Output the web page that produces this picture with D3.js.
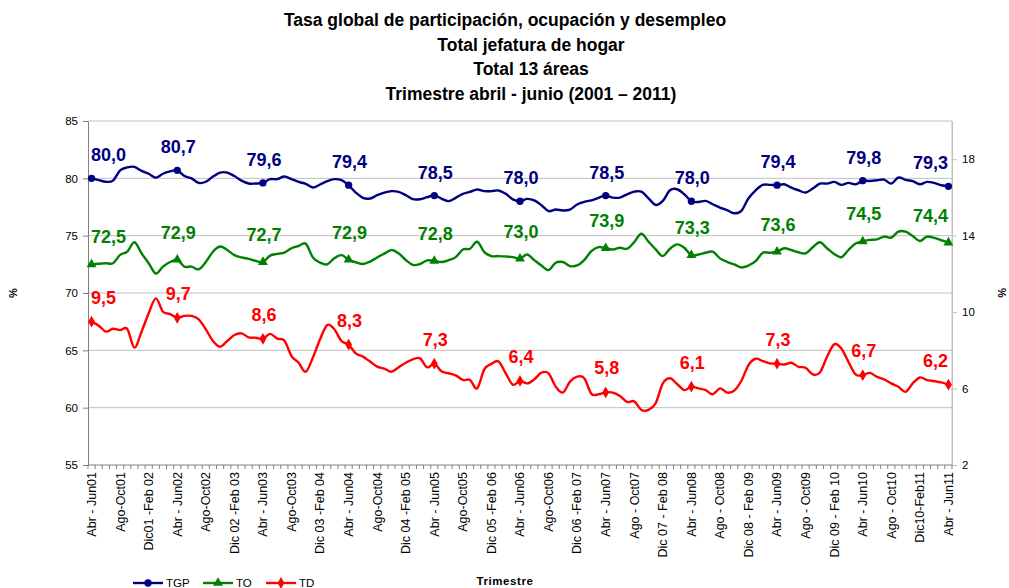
<!DOCTYPE html>
<html><head><meta charset="utf-8">
<script src="https://cdn.jsdelivr.net/npm/d3@7"></script>
<style>
html,body{margin:0;padding:0;background:#fff;}
svg text{font-family:"Liberation Sans",Arial,sans-serif;}
</style></head>
<body>
<svg id="chart" width="1009" height="588"></svg>
<script>
// ---- data ----
const titleLines = ["Tasa global de participación, ocupación y desempleo","Total jefatura de hogar","Total 13 áreas","Trimestre abril - junio (2001 – 2011)"];
const tickLabels = ["Abr - Jun01","Ago-Oct01","Dic01 -Feb 02","Abr - Jun02","Ago-Oct02","Dic 02 -Feb 03","Abr - Jun03","Ago-Oct03","Dic 03 -Feb 04","Abr - Jun04","Ago-Oct04","Dic 04 -Feb 05","Abr - Jun05","Ago-Oct05","Dic 05 -Feb 06","Abr - Jun06","Ago-Oct06","Dic  06 -Feb 07","Abr - Jun07","Ago - Oct07","Dic 07 - Feb 08","Abr - Jun08","Ago - Oct08","Dic 08 - Feb 09","Abr - Jun09","Ago - Oct09","Dic 09 - Feb 10","Abr - Jun10","Ago - Oct10","Dic10-Feb11","Abr - Jun11"];
const TGP = [80.0,79.85,79.7,79.8,80.7,80.95,81.0,80.65,80.4,80.05,80.4,80.6,
80.7,80.2,80.0,79.6,79.7,80.15,80.5,80.5,80.2,79.8,79.55,79.55,
79.6,79.93,79.93,80.16,79.93,79.69,79.52,79.2,79.46,79.75,79.93,79.84,
79.4,78.76,78.3,78.24,78.53,78.76,78.88,78.82,78.53,78.18,78.18,78.36,
78.5,78.24,78.01,78.3,78.65,78.82,79.03,78.88,78.88,78.94,78.65,78.16,
78.0,78.21,78.07,77.66,77.14,77.28,77.2,77.28,77.72,77.95,78.07,78.3,
78.5,78.32,78.32,78.61,78.84,78.84,78.26,77.68,78.03,78.96,79.05,78.61,
78.0,77.94,78.03,77.74,77.45,77.22,76.95,77.16,78.26,78.96,79.43,79.43,
79.4,79.48,79.19,78.96,78.76,79.11,79.54,79.54,79.69,79.43,79.6,79.48,
79.8,79.77,79.83,79.89,79.54,80.07,79.86,79.75,79.48,79.69,79.6,79.4,
79.3];
const TO = [72.5,72.55,72.6,72.6,73.32,73.6,74.42,73.46,72.6,71.7,72.3,72.7,
72.9,72.3,72.3,72.07,72.7,73.6,74.05,73.75,73.3,73.1,72.97,72.8,
72.7,73.26,73.41,73.52,73.9,74.1,74.3,73.1,72.65,72.5,73.03,73.3,
72.9,72.68,72.53,72.74,73.1,73.43,73.75,73.46,72.88,72.45,72.53,72.85,
72.8,72.7,72.87,73.13,73.8,73.86,74.47,73.57,73.22,73.22,73.19,73.13,
73.0,73.36,72.87,72.4,72.0,72.64,72.7,72.35,72.4,72.87,73.65,74.0,
73.9,73.8,73.95,73.86,74.44,75.17,74.47,73.8,73.22,73.86,74.24,73.95,
73.3,73.36,73.51,73.6,73.02,72.72,72.49,72.23,72.4,72.78,73.51,73.51,
73.6,73.9,73.75,73.55,73.46,73.99,74.42,73.9,73.41,73.12,73.75,74.31,
74.5,74.63,74.68,74.92,74.83,75.35,75.35,74.97,74.54,74.92,74.8,74.6,
74.4];
const TD = [9.5,9.29,8.98,9.13,9.06,9.12,8.14,8.98,9.94,10.72,10.02,9.9,
9.7,9.8,9.8,9.62,9.1,8.49,8.19,8.49,8.8,8.89,8.68,8.66,
8.6,8.86,8.61,8.51,7.7,7.35,6.88,7.63,8.58,9.33,9.1,8.49,
8.3,7.84,7.67,7.41,7.15,7.04,6.88,7.11,7.35,7.53,7.58,7.11,
7.3,6.9,6.8,6.69,6.45,6.45,6.01,7.0,7.29,7.42,6.8,6.2,
6.4,6.27,6.48,6.83,6.8,6.1,5.79,6.36,6.62,6.54,5.72,5.7,
5.8,5.79,5.61,5.3,5.33,4.88,4.88,5.23,6.27,6.54,6.24,5.92,
6.1,6.01,5.92,5.7,6.01,5.79,5.89,6.41,7.23,7.56,7.44,7.32,
7.3,7.26,7.35,7.14,7.09,6.74,6.84,7.66,8.31,8.1,7.4,6.74,
6.7,6.82,6.61,6.48,6.27,6.09,5.83,6.27,6.58,6.44,6.39,6.32,
6.2];
const leftTicks = [55,60,65,70,75,80,85];
const rightTicks = [2,6,10,14,18];
const labelEvery = 4;   // tick labels every 4 trimesters
const markEvery = 12;   // markers / data labels at each Abr-Jun

// ---- layout ----
const svg = d3.select("#chart");
const L = 88, R = 952, T = 121, B = 465;
const idx = d3.range(TGP.length);
const x = d3.scalePoint().domain(idx).range([L, R]).padding(0.5);
const step = x.step();
const yL = d3.scaleLinear().domain([55, 85]).range([B, T]);
const yR = d3.scaleLinear().domain([2, 20]).range([B, T]);

// title
svg.append("g").selectAll("text").data(titleLines).join("text")
  .attr("x", (d,i) => i === 0 ? 505 : 531)
  .attr("y", (d,i) => 26 + i * 24.5)
  .attr("text-anchor", "middle").attr("font-size", 17.5).attr("font-weight", "bold")
  .text(d => d);

// gridlines
svg.append("g").selectAll("line").data(leftTicks.filter(t => t > 55 && t < 85)).join("line")
  .attr("x1", L).attr("x2", R).attr("y1", d => yL(d)).attr("y2", d => yL(d))
  .attr("stroke", "#c0c0c0").attr("stroke-width", 1);
// plot border top/right
svg.append("path").attr("d", `M${L},${T}H${R}V${B}`).attr("fill", "none").attr("stroke", "#c0c0c0");

// left axis
const gL = svg.append("g").attr("transform", `translate(${L},0)`)
  .call(d3.axisLeft(yL).tickValues(leftTicks).tickSize(5).tickSizeOuter(0).tickFormat(d3.format("d")));
gL.select(".domain").attr("stroke", "#808080");
gL.selectAll(".tick line").attr("stroke", "#808080");
gL.selectAll(".tick text").attr("font-size", 11.5).attr("fill", "#000").attr("x", -10)
  .attr("font-family", "'Liberation Sans',Arial,sans-serif");

// right axis
const gR = svg.append("g").attr("transform", `translate(${R},0)`)
  .call(d3.axisRight(yR).tickValues(rightTicks).tickSize(5).tickSizeOuter(0).tickFormat(d3.format("d")));
gR.select(".domain").attr("stroke", "#c0c0c0");
gR.selectAll(".tick line").attr("stroke", "#c0c0c0");
gR.selectAll(".tick text").attr("font-size", 11.5).attr("fill", "#000").attr("x", 10)
  .attr("font-family", "'Liberation Sans',Arial,sans-serif");

// bottom axis: ticks at category boundaries
const gB = svg.append("g");
gB.append("line").attr("x1", L).attr("x2", R).attr("y1", B).attr("y2", B).attr("stroke", "#808080");
gB.selectAll("line.tk").data(d3.range(TGP.length + 1)).join("line").attr("class", "tk")
  .attr("x1", d => L + d * step).attr("x2", d => L + d * step)
  .attr("y1", B).attr("y2", B + 4).attr("stroke", "#808080");
gB.selectAll("text").data(tickLabels).join("text")
  .attr("transform", (d,i) => `translate(${x(i * labelEvery)},${B + 7}) rotate(-90)`)
  .attr("dy", "0.35em").attr("text-anchor", "end").attr("font-size", 12.5)
  .text(d => d);

// axis titles
svg.append("text").attr("transform", "translate(17,293) rotate(-90)")
  .attr("text-anchor", "middle").attr("font-size", 11).attr("font-weight", "bold").text("%");
svg.append("text").attr("transform", "translate(998,293) rotate(90)")
  .attr("text-anchor", "middle").attr("font-size", 11).attr("font-weight", "bold").text("%");
svg.append("text").attr("x", 505).attr("y", 585).attr("text-anchor", "middle")
  .attr("font-size", 11.5).attr("font-weight", "bold").attr("letter-spacing", 0.6).text("Trimestre");

// series
const series = [
  {name: "TGP", data: TGP, y: yL, color: "#000080", sym: d3.symbolCircle, size: 42, off: 17},
  {name: "TO",  data: TO,  y: yL, color: "#008000", sym: d3.symbolTriangle, size: 42, off: 21},
  {name: "TD",  data: TD,  y: yR, color: "#ff0000", sym: d3.symbolDiamond, size: 40, off: 18}
];
const fmt = v => d3.format(".1f")(v).replace(".", ",");
series.forEach(s => {
  const line = d3.line().x((d,i) => x(i)).y(d => s.y(d)).curve(d3.curveCardinal.tension(0));
  svg.append("path").datum(s.data).attr("d", line).attr("fill", "none")
    .attr("stroke", s.color).attr("stroke-width", 2.4).attr("stroke-linejoin", "round");
  const pts = idx.filter(i => i % markEvery === 0);
  svg.append("g").selectAll("path").data(pts).join("path")
    .attr("transform", i => `translate(${x(i)},${s.y(s.data[i])})`)
    .attr("d", d3.symbol().type(s.sym).size(s.size)).attr("fill", s.color);
  const g = svg.append("g");
  g.selectAll("text").data(pts).join("text")
    .attr("y", i => s.y(s.data[i]) - s.off)
    .attr("font-size", 18).attr("font-weight", "bold").attr("fill", s.color)
    .attr("text-anchor", "middle")
    .text(i => fmt(s.data[i]))
    .attr("x", function(i) {
      const w = this.getComputedTextLength();
      let cx = x(i) + 1;
      cx = Math.max(L + 3 + w / 2, Math.min(R - 4 - w / 2, cx));
      return cx;
    });
});

// legend
const legX = [133, 203, 266];
series.forEach((s, k) => {
  const g = svg.append("g").attr("transform", `translate(${legX[k]},583)`);
  g.append("line").attr("x1", 0).attr("x2", 30).attr("stroke", s.color).attr("stroke-width", 2.4);
  g.append("path").attr("transform", "translate(15,0)").attr("d", d3.symbol().type(s.sym).size(s.size)).attr("fill", s.color);
  g.append("text").attr("x", 33).attr("y", 4).attr("font-size", 11.5).text(s.name);
});
</script>
</body></html>
